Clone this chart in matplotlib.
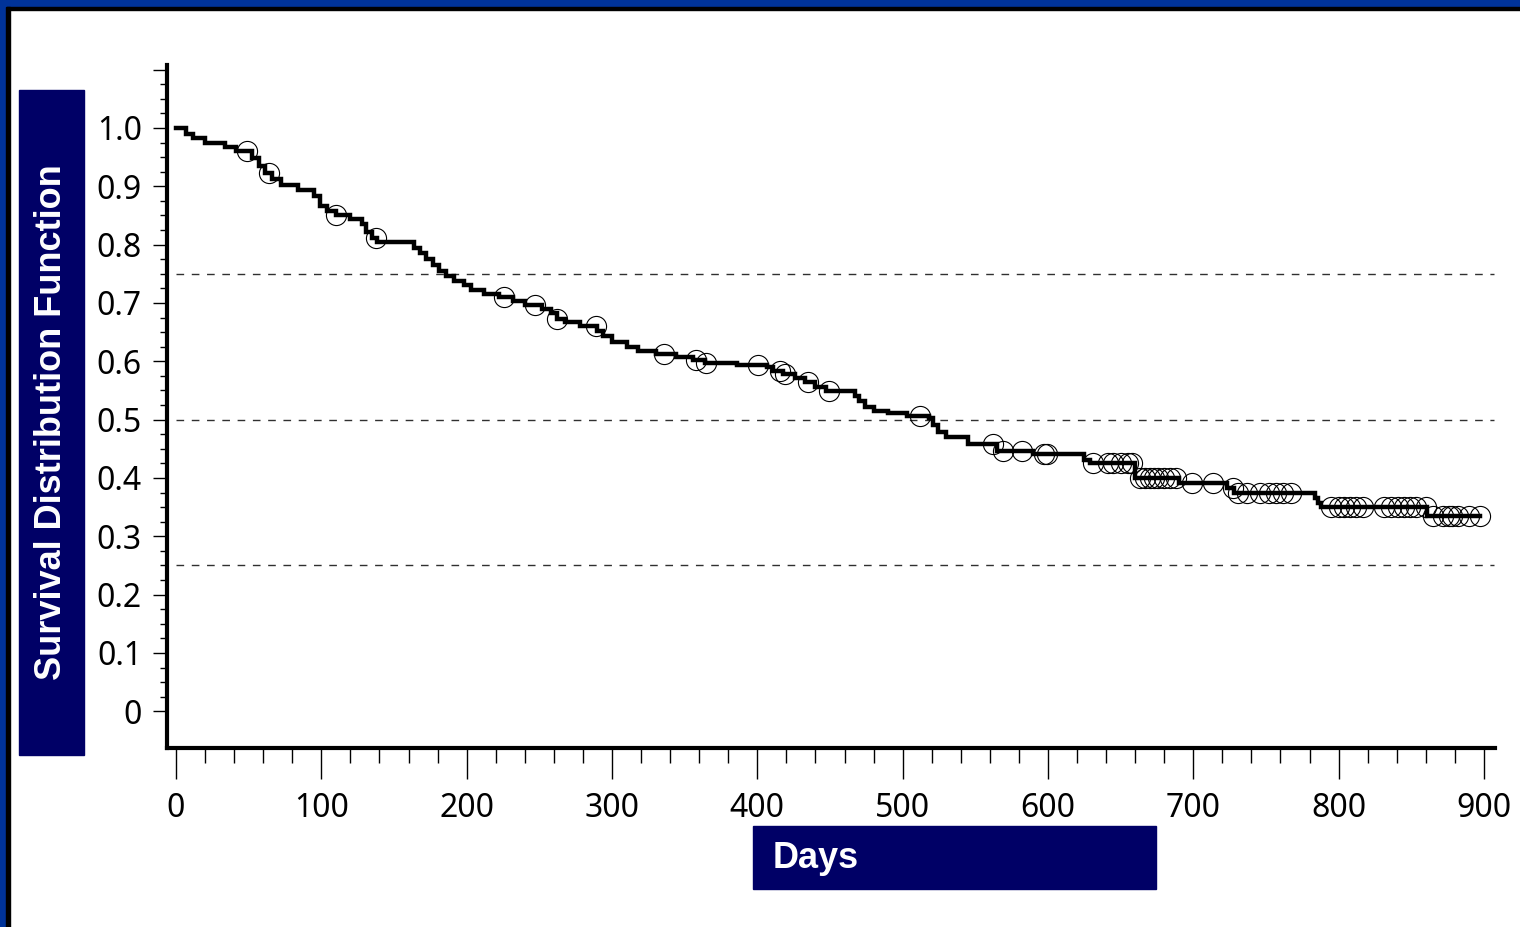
import matplotlib.pyplot as plt
import matplotlib.patches as mpatches
from matplotlib.ticker import MultipleLocator, FixedLocator
import numpy as np

# Kaplan-Meier estimate: day of each drop and survival after it
step_days = [0, 7, 12, 20, 34, 41, 52, 57, 61, 66, 72, 84, 95, 99, 104, 110,
             120, 128, 131, 135, 138, 164, 168, 172, 177, 181, 186, 191, 198,
             203, 212, 222, 232, 240, 252, 258, 262, 268, 278, 290, 294, 300,
             310, 318, 330, 344, 356, 364, 386, 407, 411, 418, 426, 433, 440,
             447, 467, 470, 474, 480, 490, 503, 518, 521, 524, 530, 545, 565,
             590, 625, 629, 660, 690, 723, 728, 784, 786, 788, 861, 897]
surv = [1.0, 0.99, 0.982, 0.975, 0.968, 0.96, 0.948, 0.935, 0.922, 0.912,
        0.903, 0.894, 0.883, 0.866, 0.858, 0.85, 0.844, 0.835, 0.822, 0.812,
        0.805, 0.795, 0.785, 0.775, 0.765, 0.755, 0.747, 0.738, 0.73, 0.722,
        0.716, 0.71, 0.703, 0.697, 0.69, 0.682, 0.672, 0.667, 0.661, 0.652,
        0.643, 0.633, 0.625, 0.618, 0.613, 0.607, 0.602, 0.597, 0.594, 0.59,
        0.583, 0.578, 0.571, 0.565, 0.556, 0.549, 0.54, 0.532, 0.522, 0.515,
        0.511, 0.507, 0.503, 0.49, 0.478, 0.471, 0.459, 0.446, 0.441, 0.43,
        0.425, 0.40, 0.392, 0.383, 0.375, 0.365, 0.357, 0.35, 0.335, 0.335]

# censored observations (days)
censored = [49, 64, 110, 137.6, 225.7, 247, 262, 289, 335.7, 358, 365, 400.6,
            415.5, 419, 435, 449, 512, 562, 569, 582, 597, 599, 631, 641, 645,
            650, 655, 658, 663, 667, 670, 673, 676, 680, 684, 688, 699, 713.6,
            727, 731, 737, 746, 752, 757, 762, 767, 795, 800, 804, 808, 812,
            817, 831, 836, 841, 845, 849, 853, 860, 865, 872, 876, 878, 882,
            890, 897]

ref_lines = [0.25, 0.5, 0.75]
x_ticks = [0, 100, 200, 300, 400, 500, 600, 700, 800, 900]
y_ticks = [0, 0.1, 0.2, 0.3, 0.4, 0.5, 0.6, 0.7, 0.8, 0.9, 1.0, 1.1]
y_labels = ['0', '0.1', '0.2', '0.3', '0.4', '0.5', '0.6', '0.7', '0.8',
            '0.9', '1.0', '']

NAVY = '#000066'
BLUE = '#003399'
label_font = ['Liberation Sans', 'DejaVu Sans']

fig = plt.figure(figsize=(15.2, 9.27), dpi=100)
fig.patch.set_facecolor('white')

# frame around the slide
fig.patches.append(mpatches.Rectangle((0, 1 - 7 / 927), 1, 7 / 927, transform=fig.transFigure,
                                      color=BLUE, zorder=0))
fig.patches.append(mpatches.Rectangle((0, 1 - 10 / 927), 1, 3 / 927, transform=fig.transFigure,
                                      color='black', zorder=0))
fig.patches.append(mpatches.Rectangle((0, 0), 6 / 1520, 1, transform=fig.transFigure,
                                      color=BLUE, zorder=0))
fig.patches.append(mpatches.Rectangle((6 / 1520, 0), 3.5 / 1520, 1 - 7 / 927,
                                      transform=fig.transFigure, color='black', zorder=0))

ax = fig.add_axes([167 / 1520, 1 - 748 / 927, 1328 / 1520, 683 / 927])
ax.set_xlim(-6.2, 907.6)
ax.set_ylim(-0.063, 1.108)

for v in ref_lines:
    ax.plot([0, 907], [v, v], color='#303030', lw=1.0, dashes=(5.5, 5.5), zorder=1)

ax.plot(step_days, surv, drawstyle='steps-post', color='black', lw=3.2,
        solid_joinstyle='miter', zorder=3)

idx = np.searchsorted(step_days, censored, side='right') - 1
cens_y = np.array(surv)[idx]
ax.plot(censored, cens_y, 'o', ms=14.5, mfc='none', mec='black', mew=0.8, zorder=4)

for side in ['top', 'right']:
    ax.spines[side].set_visible(False)
for side in ['left', 'bottom']:
    ax.spines[side].set_linewidth(3.0)

ax.xaxis.set_major_locator(FixedLocator(x_ticks))
ax.xaxis.set_minor_locator(MultipleLocator(20))
ax.yaxis.set_major_locator(FixedLocator(y_ticks))
ax.yaxis.set_minor_locator(FixedLocator(np.arange(0, 1.11, 0.025)))
ax.set_yticklabels(y_labels)

ax.tick_params(axis='x', which='major', length=22, width=1, pad=10, labelsize=23)
ax.tick_params(axis='x', which='minor', length=11, width=1)
ax.tick_params(axis='y', which='major', length=10, width=1, pad=8, labelsize=23)
ax.tick_params(axis='y', which='minor', length=5, width=1)
for lab in ax.get_xticklabels() + ax.get_yticklabels():
    lab.set_family(['Noto Sans', 'DejaVu Sans'])
    lab.set_stretch('extra-condensed')
    lab.set_weight('light')

# axis titles on navy boxes
fig.patches.append(mpatches.Rectangle((19 / 1520, 1 - 755 / 927), 65 / 1520, 665 / 927,
                                      transform=fig.transFigure, color=NAVY, zorder=0))
fig.text(52 / 1520, 1 - 422 / 927, 'Survival Distribution Function', rotation=90,
         color='white', fontsize=26, fontweight='bold', family=label_font,
         ha='center', va='center')
fig.patches.append(mpatches.Rectangle((753 / 1520, 1 - 889 / 927), 403 / 1520, 63 / 927,
                                      transform=fig.transFigure, color=NAVY, zorder=0))
fig.text(773 / 1520, 1 - 858 / 927, 'Days', color='white', fontsize=26,
         fontweight='bold', family=label_font, ha='left', va='center')

fig.savefig('out.png', dpi=100)
